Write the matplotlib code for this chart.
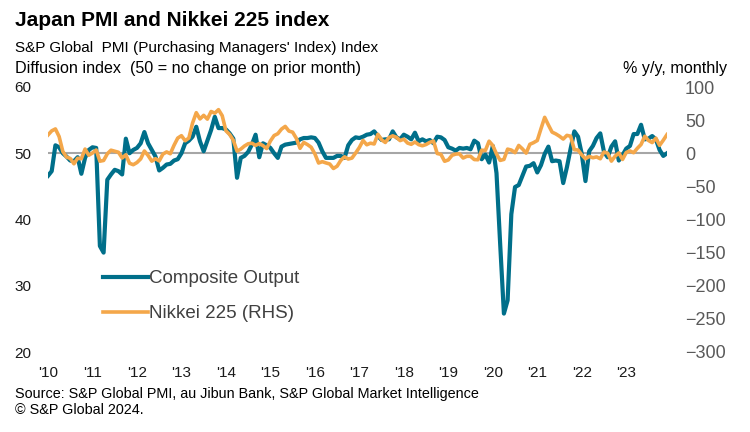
import matplotlib
matplotlib.use("Agg")
import matplotlib.pyplot as plt

plt.rcParams["font.family"] = ["Liberation Sans", "DejaVu Sans"]

# Monthly data, Jan 2010 - Dec 2023
composite = [
    46.6, 47.3, 51.2, 50.9, 50.0, 49.5, 48.9, 48.8, 49.4, 46.9, 49.3, 50.5,  # 2010
    50.9, 50.8, 36.0, 35.0, 46.0, 46.8, 47.5, 47.3, 46.8, 52.2, 50.0, 50.5,  # 2011
    50.8, 51.5, 53.2, 51.5, 50.5, 49.5, 47.4, 47.8, 48.3, 48.4, 48.9, 49.1,  # 2012
    50.0, 51.5, 51.9, 52.5, 54.0, 51.8, 50.3, 51.9, 53.5, 55.5, 53.8, 53.8,  # 2013
    53.6, 53.0, 52.2, 46.3, 49.3, 49.6, 50.2, 51.3, 52.8, 49.4, 51.5, 51.2,  # 2014
    50.8, 50.0, 49.3, 51.0, 51.3, 51.4, 51.5, 51.6, 52.1, 52.3, 52.3, 52.4,  # 2015
    52.3, 51.6, 50.3, 49.3, 49.3, 49.3, 49.6, 49.6, 49.3, 51.2, 52.0, 52.4,  # 2016
    52.3, 52.5, 52.8, 52.9, 53.3, 52.6, 52.0, 52.1, 52.1, 53.3, 52.4, 52.1,  # 2017
    52.8, 52.5, 52.1, 53.1, 51.8, 52.1, 51.8, 52.0, 51.5, 52.5, 52.4, 52.0,  # 2018
    50.9, 50.7, 50.4, 50.8, 50.7, 50.8, 50.6, 51.9, 51.5, 49.1, 49.8, 48.6,  # 2019
    51.1, 47.0, 36.2, 25.8, 27.8, 40.8, 44.9, 45.2, 46.6, 48.0, 48.1, 48.5,  # 2020
    47.1, 48.2, 49.9, 51.0, 48.8, 48.9, 48.8, 45.5, 47.9, 50.7, 53.3, 52.5,  # 2021
    49.9, 45.8, 50.3, 51.1, 52.3, 53.0, 50.2, 49.4, 51.0, 51.8, 48.9, 49.7,  # 2022
    50.7, 51.1, 52.9, 52.9, 54.3, 52.1, 52.2, 52.6, 52.1, 50.5, 49.6, 50.0,  # 2023
]

nikkei_yoy = [
    27.6, 33.8, 36.7, 25.2, 2.6, -5.8, -7.9, -15.9, -7.5, -8.3, 6.3, -3.0,
    0.4, 4.9, -12.0, -10.9, -0.8, 4.6, 3.1, 1.5, -7.1, -2.3, -15.1, -17.3,
    -14.0, -8.5, 3.4, -3.3, -11.9, -8.2, -11.6, -1.3, 2.0, -0.7, 12.0, 22.9,
    26.5, 18.9, 22.9, 45.6, 61.2, 51.8, 57.2, 51.5, 63.0, 60.5, 65.8, 56.7,
    33.9, 28.4, 19.6, 3.2, 6.2, 10.9, 14.3, 15.2, 11.9, 14.6, 11.5, 7.1,
    18.5, 26.7, 29.5, 36.5, 40.5, 33.5, 31.8, 22.5, 7.5, 16.3, 13.1, 9.1,
    -0.9, -14.7, -12.7, -14.6, -16.2, -23.0, -19.5, -10.6, -5.4, -8.7, -7.3, 0.4,
    8.7, 19.3, 12.8, 15.2, 14.0, 28.6, 20.3, 16.3, 23.7, 26.3, 24.1, 19.1,
    21.3, 15.4, 13.5, 17.0, 13.0, 11.3, 13.2, 16.4, 18.5, -0.4, -1.6, -12.1,
    -10.1, -3.1, -1.2, -0.9, -7.2, -4.6, -4.6, -9.5, -9.8, 4.6, 4.2, 18.2,
    11.7, -1.1, -10.8, -9.3, 6.2, 4.8, 0.9, 11.8, 6.6, 0.2, 13.5, 16.0,
    19.2, 37.0, 54.2, 42.7, 31.9, 29.2, 25.7, 21.4, 27.0, 25.7, 5.3, 4.9,
    -2.4, -8.4, -4.7, -6.8, -5.5, -8.3, 1.9, 0.0, -11.9, -4.5, 0.5, -9.4,
    1.2, 3.5, 0.8, 7.5, 13.2, 25.7, 19.3, 16.1, 22.8, 11.9, 19.7, 28.2,
]

year_labels = ["'10", "'11", "'12", "'13", "'14", "'15", "'16",
               "'17", "'18", "'19", "'20", "'21", "'22", "'23"]
left_ticks = [20, 30, 40, 50, 60]
right_ticks = [-300, -250, -200, -150, -100, -50, 0, 50, 100]

TEAL = "#006F8A"
ORANGE = "#F4A74A"

months = list(range(len(composite)))

fig = plt.figure(figsize=(7.5, 4.32), dpi=100)
ax = fig.add_axes([48 / 750, 1 - 352 / 432, (667 - 48) / 750, (352 - 87) / 432])
ax2 = ax.twinx()

ax.axhline(50, color="#A6A6A6", lw=1.5, zorder=1)
l1, = ax.plot(months, composite, color=TEAL, lw=3.0, solid_joinstyle="round", zorder=2)
l2, = ax2.plot(months, nikkei_yoy, color=ORANGE, lw=2.6, solid_joinstyle="round")

ax.set_xlim(0, len(composite) - 1)
ax.set_ylim(20, 60)
ax2.set_ylim(-300, 100)
ax.set_yticks(left_ticks)
ax2.set_yticks(right_ticks)
ax.set_xticks([12 * i for i in range(len(year_labels))])
ax.set_xticklabels(year_labels)

for a in (ax, ax2):
    for s in a.spines.values():
        s.set_visible(False)
ax.tick_params(axis="y", length=0, pad=12, labelsize=11, labelcolor="#1a1a1a")
ax.tick_params(axis="x", length=0, pad=10, labelsize=11, labelcolor="#1a1a1a")
ax2.tick_params(axis="y", length=0, pad=13, labelsize=13, labelcolor="#595959")

leg = fig.legend([l1, l2], ["Composite Output", "Nikkei 225 (RHS)"],
                 loc="upper left", bbox_to_anchor=(103 / 750, 1 - 270 / 432),
                 frameon=False, fontsize=13.5, handlelength=2.4, handletextpad=0.05,
                 labelspacing=0.95, borderpad=0, borderaxespad=0)
for t in leg.get_texts():
    t.set_color("#404040")

fig.text(15 / 750, 1 - 20 / 432, "Japan PMI and Nikkei 225 index",
         fontsize=15, fontweight="bold", va="center", ha="left")
fig.text(15 / 750, 1 - 48 / 432, "S&P Global  PMI (Purchasing Managers' Index) Index",
         fontsize=11, va="center", ha="left")
fig.text(15 / 750, 1 - 68 / 432, "Diffusion index  (50 = no change on prior month)",
         fontsize=11.6, va="center", ha="left")
fig.text(727 / 750, 1 - 68 / 432, "% y/y, monthly",
         fontsize=11.6, va="center", ha="right")
fig.text(15 / 750, 1 - 394 / 432,
         "Source: S&P Global PMI, au Jibun Bank, S&P Global Market Intelligence",
         fontsize=10.4, va="center", ha="left")
fig.text(15 / 750, 1 - 410 / 432, "\u00a9 S&P Global 2024.",
         fontsize=10.4, va="center", ha="left")

fig.savefig("out.png", dpi=100)
